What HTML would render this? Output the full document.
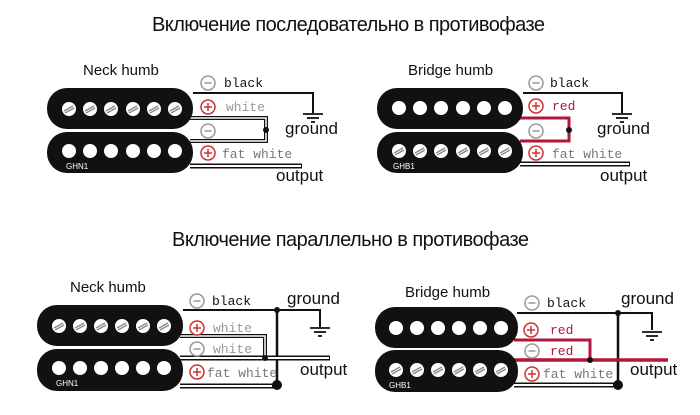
<!DOCTYPE html>
<html><head><meta charset="utf-8"><style>
html,body{margin:0;padding:0;background:#fff;width:700px;height:415px;overflow:hidden}
svg{display:block}
.t{font-family:"Liberation Sans","DejaVu Sans",sans-serif;fill:#111}
.m{font-family:"Liberation Mono","DejaVu Sans Mono",monospace;font-size:13px}
</style></head><body>
<svg width="700" height="415" viewBox="0 0 700 415" xmlns="http://www.w3.org/2000/svg">
<defs>
<g id="screw"><circle r="7" fill="#fff"/><line x1="-5" y1="2" x2="4" y2="-3" stroke="#888" stroke-width="1.3"/><line x1="-4" y1="4" x2="5" y2="-1" stroke="#888" stroke-width="1.3"/></g>
<g id="dot"><circle r="7" fill="#fff"/></g>
<g id="minus"><circle r="7" fill="#fff" stroke="#999" stroke-width="1.5"/><line x1="-3.5" y1="0" x2="3.5" y2="0" stroke="#999" stroke-width="1.5"/></g>
<g id="plus"><circle r="7" fill="#fff" stroke="#c33" stroke-width="1.5"/><line x1="-4" y1="0" x2="4" y2="0" stroke="#c33" stroke-width="1.5"/><line x1="0" y1="-4" x2="0" y2="4" stroke="#c33" stroke-width="1.5"/></g>
<g id="gnd" stroke="#111" stroke-width="1.8"><line x1="-10" y1="0" x2="10" y2="0"/><line x1="-6" y1="4" x2="6" y2="4"/><line x1="-2" y1="8" x2="2" y2="8"/></g>
</defs>

<text class="t" x="152" y="31" font-size="20" textLength="393">Включение последовательно в противофазе</text>
<text class="t" x="172" y="246" font-size="20" textLength="357">Включение параллельно в противофазе</text>

<!-- Diagram 1 -->
<g>
<text class="t" x="83" y="75" font-size="15">Neck humb</text>
<path d="M193 93H313V113" fill="none" stroke="#111" stroke-width="2"/>
<use href="#gnd" x="313" y="114"/>
<path d="M190 118H266V141H190" fill="none" stroke="#111" stroke-width="4"/>
<path d="M190 118H266V141H190" fill="none" stroke="#fff" stroke-width="1.5"/>
<circle cx="266" cy="130" r="3" fill="#111"/>
<path d="M190 166H302" fill="none" stroke="#111" stroke-width="5"/>
<path d="M190 166H301" fill="none" stroke="#fff" stroke-width="2"/>
<rect x="47" y="88" width="146" height="41" rx="20" fill="#111"/>
<rect x="47" y="132" width="146" height="41" rx="20" fill="#111"/>
<use href="#screw" x="69" y="109"/><use href="#screw" x="90" y="109"/><use href="#screw" x="111" y="109"/><use href="#screw" x="133" y="109"/><use href="#screw" x="154" y="109"/><use href="#screw" x="175" y="109"/>
<use href="#dot" x="69" y="151"/><use href="#dot" x="90" y="151"/><use href="#dot" x="111" y="151"/><use href="#dot" x="133" y="151"/><use href="#dot" x="154" y="151"/><use href="#dot" x="175" y="151"/>
<text x="66" y="169" font-family="Liberation Sans,sans-serif" font-size="8" fill="#fff">GHN1</text>
<use href="#minus" x="208" y="83"/><text class="m" x="224" y="87" fill="#111">black</text>
<use href="#plus" x="208" y="107"/><text class="m" x="226" y="111" fill="#999">white</text>
<use href="#minus" x="208" y="131"/>
<use href="#plus" x="208" y="153"/><text class="m" x="222" y="158" fill="#777">fat white</text>
<text class="t" x="285" y="134" font-size="17">ground</text>
<text class="t" x="276" y="181" font-size="17">output</text>
</g>

<!-- Diagram 2 -->
<g>
<text class="t" x="408" y="75" font-size="15">Bridge humb</text>
<path d="M523 93H622V113" fill="none" stroke="#111" stroke-width="2"/>
<use href="#gnd" x="622" y="114"/>
<path d="M520 118H569V141H520" fill="none" stroke="#b0173a" stroke-width="3"/>
<circle cx="569" cy="130" r="3" fill="#111"/>
<path d="M520 164H630" fill="none" stroke="#111" stroke-width="5"/>
<path d="M520 164H629" fill="none" stroke="#fff" stroke-width="2"/>
<rect x="377" y="88" width="146" height="41" rx="20" fill="#111"/>
<rect x="377" y="132" width="146" height="41" rx="20" fill="#111"/>
<use href="#dot" x="399" y="108"/><use href="#dot" x="420" y="108"/><use href="#dot" x="441" y="108"/><use href="#dot" x="463" y="108"/><use href="#dot" x="484" y="108"/><use href="#dot" x="505" y="108"/>
<use href="#screw" x="399" y="151"/><use href="#screw" x="420" y="151"/><use href="#screw" x="441" y="151"/><use href="#screw" x="463" y="151"/><use href="#screw" x="484" y="151"/><use href="#screw" x="505" y="151"/>
<text x="393" y="169" font-family="Liberation Sans,sans-serif" font-size="8" fill="#fff">GHB1</text>
<use href="#minus" x="536" y="83"/><text class="m" x="550" y="87" fill="#111">black</text>
<use href="#plus" x="536" y="106"/><text class="m" x="552" y="110" fill="#b0173a">red</text>
<use href="#minus" x="536" y="131"/>
<use href="#plus" x="536" y="153"/><text class="m" x="552" y="158" fill="#777">fat white</text>
<text class="t" x="597" y="134" font-size="17">ground</text>
<text class="t" x="600" y="181" font-size="17">output</text>
</g>

<!-- Diagram 3 -->
<g>
<text class="t" x="70" y="292" font-size="15">Neck humb</text>
<path d="M183 310H320V327" fill="none" stroke="#111" stroke-width="2"/>
<use href="#gnd" x="320" y="328"/>
<path d="M277 310V386" fill="none" stroke="#111" stroke-width="2.5"/>
<path d="M180 336H265V358" fill="none" stroke="#111" stroke-width="4"/>
<path d="M180 336H265V358" fill="none" stroke="#fff" stroke-width="1.5"/>
<path d="M180 358H330" fill="none" stroke="#111" stroke-width="5"/>
<path d="M180 358H329" fill="none" stroke="#fff" stroke-width="2"/>
<path d="M180 386H277" fill="none" stroke="#111" stroke-width="5"/>
<path d="M180 386H272" fill="none" stroke="#fff" stroke-width="2"/>
<circle cx="277" cy="310" r="3" fill="#111"/>
<circle cx="265" cy="358" r="3" fill="#111"/>
<circle cx="277" cy="385" r="5" fill="#111"/>
<rect x="37" y="305" width="146" height="41" rx="20" fill="#111"/>
<rect x="37" y="349" width="146" height="42" rx="20" fill="#111"/>
<use href="#screw" x="59" y="326"/><use href="#screw" x="80" y="326"/><use href="#screw" x="101" y="326"/><use href="#screw" x="122" y="326"/><use href="#screw" x="143" y="326"/><use href="#screw" x="164" y="326"/>
<use href="#dot" x="59" y="368"/><use href="#dot" x="80" y="368"/><use href="#dot" x="101" y="368"/><use href="#dot" x="122" y="368"/><use href="#dot" x="143" y="368"/><use href="#dot" x="164" y="368"/>
<text x="56" y="386" font-family="Liberation Sans,sans-serif" font-size="8" fill="#fff">GHN1</text>
<use href="#minus" x="197" y="301"/><text class="m" x="212" y="305" fill="#111">black</text>
<use href="#plus" x="197" y="328"/><text class="m" x="213" y="332" fill="#999">white</text>
<use href="#minus" x="197" y="349"/><text class="m" x="213" y="353" fill="#999">white</text>
<use href="#plus" x="197" y="372"/><text class="m" x="207" y="377" fill="#777">fat white</text>
<text class="t" x="287" y="304" font-size="17">ground</text>
<text class="t" x="300" y="375" font-size="17">output</text>
</g>

<!-- Diagram 4 -->
<g>
<text class="t" x="405" y="297" font-size="15">Bridge humb</text>
<path d="M517 313H652V330" fill="none" stroke="#111" stroke-width="2"/>
<use href="#gnd" x="652" y="332"/>
<path d="M618 313V386" fill="none" stroke="#111" stroke-width="2.5"/>
<path d="M514 340H590V360" fill="none" stroke="#b0173a" stroke-width="3"/>
<path d="M514 360H668" fill="none" stroke="#b0173a" stroke-width="3.5"/>
<path d="M514 385H618" fill="none" stroke="#111" stroke-width="5"/>
<path d="M514 385H613" fill="none" stroke="#fff" stroke-width="2"/>
<circle cx="618" cy="313" r="3" fill="#111"/>
<circle cx="590" cy="360" r="3" fill="#111"/>
<circle cx="618" cy="385" r="5" fill="#111"/>
<rect x="375" y="307" width="143" height="41" rx="20" fill="#111"/>
<rect x="375" y="350" width="143" height="42" rx="20" fill="#111"/>
<use href="#dot" x="396" y="328"/><use href="#dot" x="417" y="328"/><use href="#dot" x="438" y="328"/><use href="#dot" x="459" y="328"/><use href="#dot" x="480" y="328"/><use href="#dot" x="501" y="328"/>
<use href="#screw" x="396" y="370"/><use href="#screw" x="417" y="370"/><use href="#screw" x="438" y="370"/><use href="#screw" x="459" y="370"/><use href="#screw" x="480" y="370"/><use href="#screw" x="501" y="370"/>
<text x="389" y="388" font-family="Liberation Sans,sans-serif" font-size="8" fill="#fff">GHB1</text>
<use href="#minus" x="532" y="303"/><text class="m" x="547" y="307" fill="#111">black</text>
<use href="#plus" x="531" y="330"/><text class="m" x="550" y="334" fill="#b0173a">red</text>
<use href="#minus" x="532" y="351"/><text class="m" x="550" y="355" fill="#b0173a">red</text>
<use href="#plus" x="532" y="374"/><text class="m" x="543" y="378" fill="#777">fat white</text>
<text class="t" x="621" y="304" font-size="17">ground</text>
<text class="t" x="630" y="375" font-size="17">output</text>
</g>
</svg>
</body></html>
